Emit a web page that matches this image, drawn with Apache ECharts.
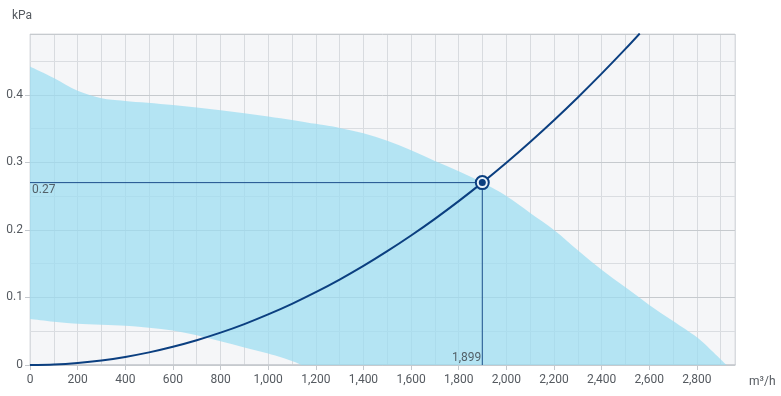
<!DOCTYPE html>
<html>
<head>
<meta charset="utf-8">
<script src="https://cdn.jsdelivr.net/npm/echarts@6/dist/echarts.min.js"></script>
<style>
html,body{margin:0;padding:0;background:#fff;}
#c{width:781px;height:396px;}
</style>
</head>
<body>
<div id="c"></div>
<script>
// ---- data ----
const upperX = [0, 100, 200, 300, 400, 600, 800, 1000, 1200, 1300, 1400, 1500, 1600, 1700, 1800, 1900, 2000, 2100, 2200, 2300, 2400, 2500, 2600, 2700, 2800, 2860, 2925];
const upperY = [0.442, 0.425, 0.406, 0.395, 0.391, 0.385, 0.377, 0.368, 0.357, 0.351, 0.343, 0.332, 0.318, 0.302, 0.287, 0.270, 0.250, 0.225, 0.200, 0.170, 0.141, 0.115, 0.089, 0.065, 0.041, 0.022, 0];
const lowerX = [0, 100, 200, 400, 500, 600, 700, 800, 900, 1000, 1100, 1140];
const lowerY = [0.068, 0.064, 0.061, 0.058, 0.055, 0.051, 0.044, 0.035, 0.026, 0.017, 0.006, 0];
const curveX = [0, 100, 200, 300, 400, 500, 600, 700, 800, 900, 1000, 1100, 1200, 1300, 1400, 1500, 1600, 1700, 1800, 1899, 2000, 2100, 2200, 2300, 2400, 2500, 2560];
const curveY = [0, 0.00075, 0.0030, 0.0067, 0.0120, 0.0187, 0.0270, 0.0367, 0.0479, 0.0606, 0.0749, 0.0906, 0.1078, 0.1265, 0.1467, 0.1685, 0.1917, 0.2164, 0.2426, 0.27, 0.2995, 0.3302, 0.3624, 0.3961, 0.4313, 0.4679, 0.4907];
const opX = 1899;
const opY = 0.27;
const xMax = 2960;
const yMax = 0.49;
const xUnit = 'm³/h';
const yUnit = 'kPa';

const FONT = 'Roboto';
const TXT = '#555a60';
const DARK = '#0b3f80';

const chart = echarts.init(document.getElementById('c'), null, {renderer: 'canvas'});

const curveData = curveX.map((x, i) => [x, curveY[i]]);
const upperData = upperX.map((x, i) => [x, upperY[i]]);
const lowerData = lowerX.map((x, i) => [x, lowerY[i]]).reverse();

const fmt = v => v.toLocaleString('en-US');

// smooth path segment through pixel points (Catmull-Rom -> cubic bezier)
function smoothSeg(p, first) {
  let d = (first ? 'M' : 'L') + p[0][0] + ' ' + p[0][1];
  for (let i = 0; i < p.length - 1; i++) {
    const p0 = p[Math.max(i - 1, 0)], p1 = p[i], p2 = p[i + 1], p3 = p[Math.min(i + 2, p.length - 1)];
    const c1x = p1[0] + (p2[0] - p0[0]) / 6, c1y = p1[1] + (p2[1] - p0[1]) / 6;
    const c2x = p2[0] - (p3[0] - p1[0]) / 6, c2y = p2[1] - (p3[1] - p1[1]) / 6;
    d += ' C' + c1x + ' ' + c1y + ' ' + c2x + ' ' + c2y + ' ' + p2[0] + ' ' + p2[1];
  }
  return d;
}

chart.setOption({
  animation: false,
  grid: {
    left: 30, right: 46, top: 34, bottom: 31,
    show: true, backgroundColor: '#f5f6f8', borderColor: '#dadde1', borderWidth: 1
  },
  xAxis: [{
    type: 'value', min: 0, max: xMax, interval: 200,
    name: xUnit, nameLocation: 'end', nameGap: 14,
    nameTextStyle: {fontFamily: FONT, fontSize: 12, color: TXT, verticalAlign: 'top', padding: [11, 0, 0, 0]},
    axisLine: {show: true, onZero: false, lineStyle: {color: '#c4c8cd', width: 1.5}},
    axisTick: {show: true, length: 5, lineStyle: {color: '#c4c8cd'}},
    axisLabel: {fontFamily: FONT, fontSize: 12, color: TXT, margin: 9, showMaxLabel: false, formatter: fmt},
    splitLine: {show: false}
  }, {
    type: 'value', min: 0, max: xMax, interval: 100, position: 'top',
    axisLine: {show: false}, axisTick: {show: false}, axisLabel: {show: false},
    splitLine: {show: true, lineStyle: {color: '#d8dbdf', width: 1}}
  }],
  yAxis: [{
    type: 'value', min: 0, max: yMax, interval: 0.1, z: 2,
    name: yUnit, nameLocation: 'end', nameGap: 12,
    nameTextStyle: {fontFamily: FONT, fontSize: 12, color: TXT, align: 'right', padding: [0, -2, 0, 0]},
    axisLine: {show: false},
    axisTick: {show: true, length: 5, lineStyle: {color: '#c4c8cd'}},
    axisLabel: {fontFamily: FONT, fontSize: 12, color: TXT, margin: 7, showMaxLabel: false},
    splitLine: {show: true, lineStyle: {color: '#c6cace', width: 1}}
  }, {
    type: 'value', min: 0, max: yMax, interval: 0.05, position: 'right', z: 1,
    axisLine: {show: false}, axisTick: {show: false}, axisLabel: {show: false},
    splitLine: {show: true, lineStyle: {color: ['rgba(0,0,0,0)', '#dadde1'], width: 1}}
  }],
  series: [
    {
      type: 'custom',
      name: 'range',
      data: [[0, 0]],
      z: 2,
      silent: true,
      renderItem: function (params, api) {
        const up = upperData.map(p => api.coord(p));
        const lo = lowerData.map(p => api.coord(p));
        const d = smoothSeg(up, true) + ' ' + smoothSeg(lo, false) + ' Z';
        const cs = params.coordSys;
        return {
          type: 'group',
          children: [{
            type: 'path',
            shape: {pathData: d},
            style: {fill: 'rgba(155,221,241,0.72)', stroke: null}
          }],
          clipPath: {type: 'rect', shape: {x: cs.x, y: cs.y, width: cs.width, height: cs.height}}
        };
      }
    },
    {
      type: 'line', name: 'system', data: curveData, smooth: 0.3, showSymbol: false, z: 5,
      lineStyle: {color: DARK, width: 2}
    },
    {
      type: 'line', name: 'hline', data: [[0, opY], [opX, opY]], showSymbol: false, z: 4,
      lineStyle: {color: '#1d4f8c', width: 1}
    },
    {
      type: 'line', name: 'vline', data: [[opX, 0], [opX, opY]], showSymbol: false, z: 4,
      lineStyle: {color: '#1d4f8c', width: 1}
    },
    {
      type: 'scatter', name: 'labels', z: 6, symbolSize: 0,
      data: [
        {value: [0, opY], label: {show: true, formatter: String(opY), position: [2, 1], align: 'left', verticalAlign: 'top'}},
        {value: [opX, 0], label: {show: true, formatter: fmt(opX), position: [-1, -1], align: 'right', verticalAlign: 'bottom'}}
      ],
      label: {fontFamily: FONT, fontSize: 12, color: '#3a3f45'}
    },
    {
      type: 'scatter', name: 'opOuter', z: 7, data: [[opX, opY]], symbol: 'circle', symbolSize: 13,
      itemStyle: {color: '#e8f2fa', borderColor: DARK, borderWidth: 2, opacity: 1}
    },
    {
      type: 'scatter', name: 'opInner', z: 8, data: [[opX, opY]], symbol: 'circle', symbolSize: 7,
      itemStyle: {color: DARK, opacity: 1}
    }
  ]
});
</script>
</body>
</html>
